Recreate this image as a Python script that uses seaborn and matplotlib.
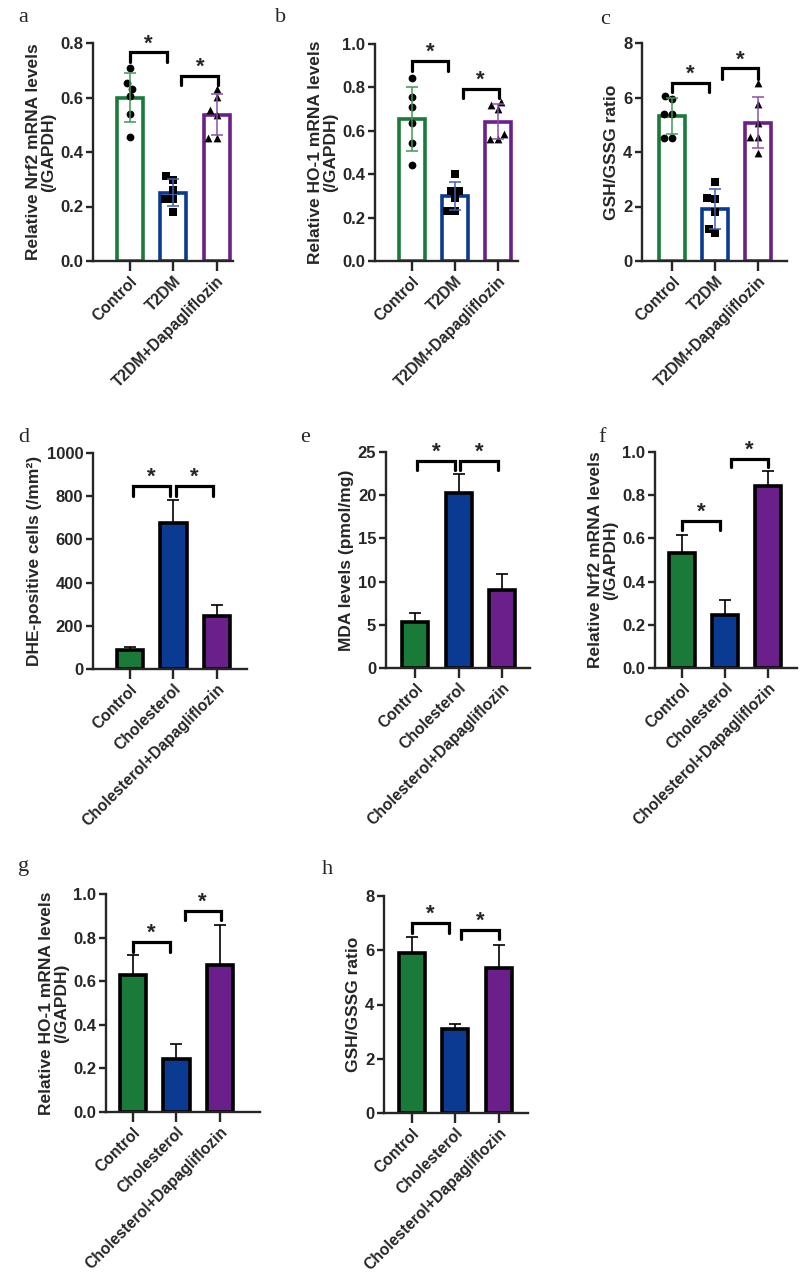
import numpy as np
import pandas as pd
import matplotlib
matplotlib.use("Agg")
import matplotlib.pyplot as plt
import seaborn as sns

sns.set_style("ticks")
plt.rcParams['font.family'] = ['Liberation Sans', 'DejaVu Sans']
plt.rcParams['font.weight'] = 'bold'
plt.rcParams['axes.labelweight'] = 'bold'

# ---------------- data ----------------
cats_t2dm = ["Control", "T2DM", "T2DM+Dapagliflozin"]
cats_chol = ["Control", "Cholesterol", "Cholesterol+Dapagliflozin"]

# panel a: Nrf2 (T2DM), individual points
a_control = [0.708, 0.653, 0.631, 0.604, 0.540, 0.454]
a_t2dm = [0.297, 0.312, 0.260, 0.229, 0.229, 0.180]
a_dapa = [0.631, 0.601, 0.555, 0.536, 0.450, 0.450]
# panel b: HO-1 (T2DM)
b_control = [0.842, 0.754, 0.711, 0.634, 0.542, 0.442]
b_t2dm = [0.400, 0.323, 0.323, 0.292, 0.231, 0.231]
b_dapa = [0.732, 0.720, 0.700, 0.585, 0.560, 0.560]
# panel c: GSH/GSSG (T2DM)
c_control = [6.07, 5.94, 5.39, 5.39, 4.53, 4.53]
c_t2dm = [2.91, 2.33, 2.29, 1.80, 1.19, 1.01]
c_dapa = [6.53, 5.77, 5.06, 4.54, 4.54, 3.98]

# bottom panels: mean and upper error
d_mean = [89, 676, 244]
d_err = [11, 108, 51]
e_mean = [5.3, 20.2, 9.05]
e_err = [1.05, 2.2, 1.85]
f_mean = [0.532, 0.244, 0.841]
f_err = [0.085, 0.072, 0.069]
g_mean = [0.629, 0.245, 0.675]
g_err = [0.092, 0.069, 0.181]
h_mean = [5.91, 3.09, 5.36]
h_err = [0.59, 0.18, 0.83]

green, blue, purple = "#1a7a3a", "#0a3a92", "#6a1f8a"
err_top = ["#3f9a58", "#3f5fb0", "#8b4faa"]
colors = [green, blue, purple]

FIG_W, FIG_H = 800, 1276
fig = plt.figure(figsize=(FIG_W / 100, FIG_H / 100), dpi=100)

YTICK_FS = 12
XTICK_FS = 11.3
LABEL_FS = 12.5


def add_axes(left, right, top, bottom):
    return fig.add_axes([left / FIG_W, 1 - bottom / FIG_H,
                         (right - left) / FIG_W, (bottom - top) / FIG_H])


def style(ax, cats, ylim, yticks, fmt, ylabel, xlim):
    ax.set_xlim(*xlim)
    ax.set_ylim(*ylim)
    ax.set_yticks(yticks)
    ax.set_yticklabels([fmt.format(t) for t in yticks], fontsize=YTICK_FS, fontweight='bold')
    ax.set_xticks(range(len(cats)))
    ax.set_xticklabels(cats, rotation=45, ha='right', rotation_mode='anchor',
                       fontsize=XTICK_FS, fontweight='bold')
    ax.set_xlabel("")
    ax.set_ylabel(ylabel, fontsize=LABEL_FS, fontweight='bold', labelpad=3,
                  linespacing=1.0)
    for s in ["top", "right"]:
        ax.spines[s].set_visible(False)
    for s in ["left", "bottom"]:
        ax.spines[s].set_linewidth(1.7)
    ax.tick_params(axis='y', width=1.7, length=5, pad=2)
    ax.tick_params(axis='x', width=1.7, length=7, pad=2)


def bracket(ax, x1, x2, y, drop, star_off):
    ax.plot([x1, x1, x2, x2], [y - drop, y, y, y - drop], color='black',
            lw=2.3, solid_joinstyle='miter', clip_on=False)
    ax.text((x1 + x2) / 2, y + star_off, "*", ha='center', va='center',
            fontsize=16, fontweight='bold', clip_on=False)


def top_panel(ax, groups, cats):
    vals = np.concatenate(groups)
    grp = np.repeat(cats, [len(g) for g in groups])
    df = pd.DataFrame({"group": grp, "value": vals})
    sns.barplot(data=df, x="group", y="value", hue="group", order=cats,
                hue_order=cats, palette=colors, saturation=1, fill=False,
                linewidth=2.6, width=0.6, errorbar=None, legend=False, ax=ax)
    for m, cat in zip(["o", "s", "^"], cats):
        sub = df[df.group == cat]
        sns.swarmplot(data=sub, x="group", y="value", order=cats, marker=m,
                      color="black", size=5.6, ax=ax, zorder=3)
    stats = df.groupby("group")["value"].agg(["mean", "std"]).reindex(cats)
    for i, cat in enumerate(cats):
        ax.errorbar(i, stats.loc[cat, "mean"], yerr=stats.loc[cat, "std"],
                    fmt='none', ecolor=err_top[i], elinewidth=1.1, capsize=4.5,
                    capthick=1.1, zorder=4)


def bottom_panel(ax, means, errs, cats):
    df = pd.DataFrame({"group": cats, "value": means})
    ax.errorbar(range(3), means, yerr=[np.zeros(3), errs], fmt='none',
                ecolor='black', elinewidth=1.2, capsize=4.5, capthick=1.2, zorder=1)
    sns.barplot(data=df, x="group", y="value", hue="group", order=cats,
                hue_order=cats, palette=colors, saturation=1, edgecolor='black',
                linewidth=2.6, width=0.6, errorbar=None, legend=False, ax=ax,
                zorder=2)


# ---- panel a ----
ax = add_axes(93, 233, 43, 261)
top_panel(ax, [a_control, a_t2dm, a_dapa], cats_t2dm)
style(ax, cats_t2dm, (0, 0.8), [0, 0.2, 0.4, 0.6, 0.8], "{:.1f}",
      "Relative Nrf2 mRNA levels\n(/GAPDH)", (-0.85, 2.38))
bracket(ax, 0, 0.85, 0.766, 0.034, 0.03)
bracket(ax, 1.19, 2.04, 0.68, 0.033, 0.03)

# ---- panel b ----
ax = add_axes(375, 518, 44, 261)
top_panel(ax, [b_control, b_t2dm, b_dapa], cats_t2dm)
style(ax, cats_t2dm, (0, 1.0), [0, 0.2, 0.4, 0.6, 0.8, 1.0], "{:.1f}",
      "Relative HO-1 mRNA levels\n(/GAPDH)", (-0.86, 2.47))
bracket(ax, 0, 0.85, 0.922, 0.045, 0.04)
bracket(ax, 1.18, 2.02, 0.792, 0.043, 0.04)

# ---- panel c ----
ax = add_axes(642, 787, 43, 261)
top_panel(ax, [c_control, c_t2dm, c_dapa], cats_t2dm)
style(ax, cats_t2dm, (0, 8), [0, 2, 4, 6, 8], "{:.0f}",
      "GSH/GSSG ratio", (-0.7, 2.67))
bracket(ax, 0, 0.85, 6.55, 0.33, 0.3)
bracket(ax, 1.17, 2.0, 7.08, 0.39, 0.3)

# ---- panel d ----
ax = add_axes(93, 247, 453, 669)
bottom_panel(ax, d_mean, d_err, cats_chol)
style(ax, cats_chol, (0, 1000), [0, 200, 400, 600, 800, 1000], "{:.0f}",
      "DHE-positive cells (/mm²)", (-0.85, 2.69))
bracket(ax, 0.08, 0.92, 846, 44, 40)
bracket(ax, 1.05, 1.9, 846, 44, 40)

# ---- panel e ----
ax = add_axes(386, 530, 452, 668)
bottom_panel(ax, e_mean, e_err, cats_chol)
style(ax, cats_chol, (0, 25), [0, 5, 10, 15, 20, 25], "{:.0f}",
      "MDA levels (pmol/mg)", (-0.67, 2.64))
bracket(ax, 0.05, 0.92, 24.0, 1.1, 1.0)
bracket(ax, 1.04, 1.9, 24.0, 1.1, 1.0)

# ---- panel f ----
ax = add_axes(655, 797, 452, 668)
bottom_panel(ax, f_mean, f_err, cats_chol)
style(ax, cats_chol, (0, 1.0), [0, 0.2, 0.4, 0.6, 0.8, 1.0], "{:.1f}",
      "Relative Nrf2 mRNA levels\n(/GAPDH)", (-0.63, 2.67))
bracket(ax, 0, 0.87, 0.682, 0.045, 0.04)
bracket(ax, 1.14, 2.0, 0.969, 0.04, 0.04)

# ---- panel g ----
ax = add_axes(106, 260, 894, 1112)
bottom_panel(ax, g_mean, g_err, cats_chol)
style(ax, cats_chol, (0, 1.0), [0, 0.2, 0.4, 0.6, 0.8, 1.0], "{:.1f}",
      "Relative HO-1 mRNA levels\n(/GAPDH)", (-0.62, 2.92))
bracket(ax, 0, 0.85, 0.778, 0.042, 0.04)
bracket(ax, 1.19, 2.02, 0.923, 0.041, 0.04)

# ---- panel h ----
ax = add_axes(384, 528, 896, 1113)
bottom_panel(ax, h_mean, h_err, cats_chol)
style(ax, cats_chol, (0, 8), [0, 2, 4, 6, 8], "{:.0f}",
      "GSH/GSSG ratio", (-0.64, 2.67))
bracket(ax, 0, 0.85, 7.01, 0.37, 0.33)
bracket(ax, 1.14, 2.0, 6.74, 0.34, 0.33)

# ---- panel letters ----
letters = [("a", 18, 18), ("b", 275, 18), ("c", 600, 20), ("d", 18, 437),
           ("e", 300, 437), ("f", 598, 437), ("g", 18, 867), ("h", 322, 870)]
for t, x, y in letters:
    fig.text(x / FIG_W, 1 - y / FIG_H, t, fontsize=16, fontweight='normal',
             family=['Liberation Serif', 'DejaVu Serif'], ha='left', va='center')

fig.savefig("out.png", dpi=100, facecolor='white')
